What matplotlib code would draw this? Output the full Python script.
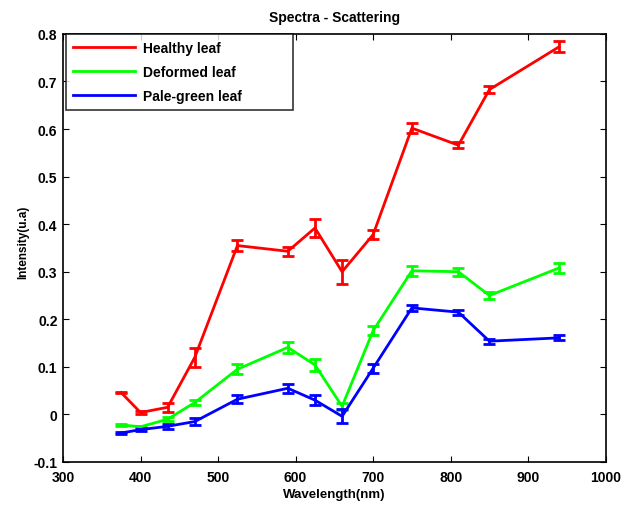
import matplotlib
matplotlib.use('Agg')
import matplotlib.pyplot as plt

wavelength = [375, 400, 435, 470, 525, 590, 625, 660, 700, 750, 810, 850, 940]

healthy = [0.046, 0.004, 0.015, 0.120, 0.355, 0.343, 0.392, 0.300, 0.378, 0.602, 0.566, 0.683, 0.773]
healthy_err = [0.002, 0.003, 0.010, 0.020, 0.012, 0.010, 0.018, 0.025, 0.010, 0.010, 0.006, 0.007, 0.012]

deformed = [-0.022, -0.026, -0.010, 0.025, 0.095, 0.141, 0.104, 0.017, 0.176, 0.302, 0.300, 0.250, 0.308]
deformed_err = [0.002, 0.002, 0.004, 0.006, 0.010, 0.012, 0.013, 0.008, 0.010, 0.010, 0.008, 0.007, 0.010]

pale = [-0.039, -0.032, -0.025, -0.015, 0.032, 0.055, 0.030, -0.004, 0.097, 0.224, 0.215, 0.154, 0.161]
pale_err = [0.002, 0.003, 0.005, 0.007, 0.008, 0.010, 0.010, 0.015, 0.010, 0.007, 0.005, 0.005, 0.005]

plt.rcParams['font.family'] = ['Liberation Sans', 'DejaVu Sans']
plt.rcParams['font.weight'] = 'bold'

fig = plt.figure(figsize=(6.26, 5.06), dpi=100)
ax = fig.add_axes([0.1006, 0.085, 0.867, 0.846])

series = [
    (healthy, healthy_err, '#ff0000', 'Healthy leaf'),
    (deformed, deformed_err, '#00ff00', 'Deformed leaf'),
    (pale, pale_err, '#0000ff', 'Pale-green leaf'),
]
handles = []
for vals, errs, col, lab in series:
    c = ax.errorbar(wavelength, vals, yerr=errs, color=col, lw=2, elinewidth=2,
                    capsize=4, capthick=2)
    handles.append(c[0])

ax.set_xlim(300, 1000)
ax.set_ylim(-0.1, 0.8)
ax.set_xticks(range(300, 1001, 100))
ax.set_yticks([-0.1, 0, 0.1, 0.2, 0.3, 0.4, 0.5, 0.6, 0.7, 0.8])
ax.set_yticklabels(['-0.1', '0', '0.1', '0.2', '0.3', '0.4', '0.5', '0.6', '0.7', '0.8'])
ax.tick_params(direction='in', top=True, right=True, labelsize=10, length=4)
ax.tick_params(axis='y', pad=4)
ax.tick_params(axis='x', pad=6)
for lbl in ax.get_xticklabels() + ax.get_yticklabels():
    lbl.set_fontweight('bold')
for sp in ax.spines.values():
    sp.set_linewidth(1.2)

ax.set_xlabel('Wavelength(nm)', fontsize=9.5, fontweight='bold', labelpad=3)
ax.set_ylabel('Intensity(u.a)', fontsize=8.5, fontweight='bold')
ax.yaxis.set_label_coords(-0.062, 0.515)
ax.set_title('Spectra - Scattering', fontsize=10, fontweight='bold', pad=9)

leg = ax.legend(handles, [s[3] for s in series], loc='upper left',
                bbox_to_anchor=(0.005, 1.0, 0.418, 0.0), mode='expand',
                fontsize=10, frameon=True, fancybox=False, edgecolor='black',
                borderaxespad=0, handlelength=4.5, handletextpad=0.6,
                labelspacing=0.72, borderpad=0.5)
leg.get_frame().set_linewidth(1.2)

fig.savefig('out.png', dpi=100)
